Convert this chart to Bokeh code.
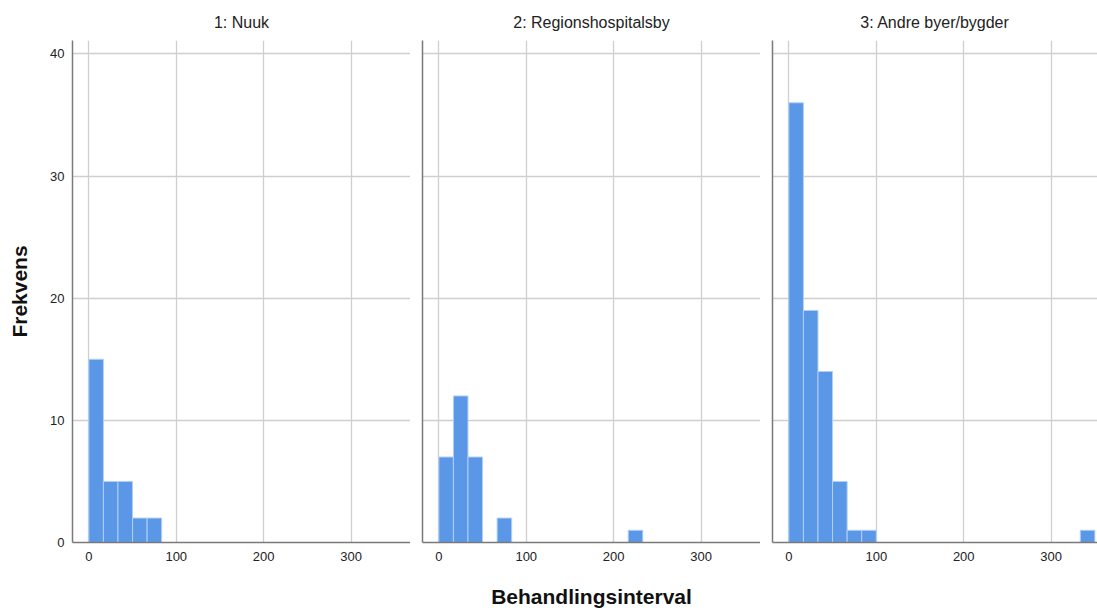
from bokeh.plotting import figure
from bokeh.layouts import row
from bokeh.models import FixedTicker, Range1d
from bokeh.embed import file_html
from bokeh.resources import INLINE

# ---- data (histogram counts per bin of width 100/6, starting at 0) ----
bin_width = 100 / 6
panel_titles = ["1: Nuuk", "2: Regionshospitalsby", "3: Andre byer/bygder"]
counts_nuuk = [15, 5, 5, 2, 2]
counts_region = [7, 12, 7, 0, 2, 0, 0, 0, 0, 0, 0, 0, 0, 1]
counts_andre = [36, 19, 14, 5, 1, 1, 0, 0, 0, 0, 0, 0, 0, 0, 0, 0, 0, 0, 0, 0, 1]
x_ticks = [0, 100, 200, 300]
y_ticks = [0, 10, 20, 30, 40]
x_label = "Behandlingsinterval"
y_label = "Frekvens"

FONT = "Liberation Sans"
FILL = "#5a97e6"
EDGE = "#b3cff3"
GRID = "#cfcfcf"
AXIS = "#7a7a7a"
TXT = "#222222"

all_counts = [counts_nuuk, counts_region, counts_andre]
x_ends = [368, 368, 353]
frame_ws = [338, 338, 325]
borders_left = [72, 12, 12]

figs = []
for i, (title, counts) in enumerate(zip(panel_titles, all_counts)):
    p = figure(
        frame_width=frame_ws[i], frame_height=502,
        x_range=Range1d(-18.7, x_ends[i]), y_range=Range1d(0, 41.1),
        output_backend="svg", toolbar_location=None,
        min_border_left=borders_left[i], min_border_right=0,
        min_border_top=40, min_border_bottom=66,
        title=title,
    )
    p.outline_line_color = None
    p.background_fill_color = "white"
    p.border_fill_color = "white"
    p.title.align = "center"
    p.title.text_font = FONT
    p.title.text_font_size = "16px"
    p.title.text_font_style = "normal"
    p.title.text_color = TXT
    p.title.standoff = 19

    lefts = [k * bin_width for k, c in enumerate(counts) if c > 0]
    rights = [(k + 1) * bin_width for k, c in enumerate(counts) if c > 0]
    tops = [c for c in counts if c > 0]
    p.quad(left=lefts, right=rights, top=tops, bottom=0,
           fill_color=FILL, line_color=EDGE, line_width=1)

    # x axis
    p.xaxis.ticker = FixedTicker(ticks=x_ticks)
    p.xaxis.major_tick_out = 0
    p.xaxis.major_tick_in = 0
    p.xaxis.minor_tick_out = 0
    p.xaxis.minor_tick_in = 0
    p.xaxis.axis_line_color = AXIS
    p.xaxis.axis_line_width = 1.5
    p.xaxis.major_label_text_font = FONT
    p.xaxis.major_label_text_font_size = "13px"
    p.xaxis.major_label_text_color = TXT
    p.xaxis.major_label_standoff = 9
    if i == 1:
        p.xaxis.axis_label = x_label
        p.xaxis.axis_label_text_font = FONT
        p.xaxis.axis_label_text_font_size = "21px"
        p.xaxis.axis_label_text_font_style = "bold"
        p.xaxis.axis_label_text_color = "#111111"
        p.xaxis.axis_label_standoff = 21

    # y axis
    p.yaxis.axis_line_color = AXIS
    p.yaxis.axis_line_width = 1.5
    p.yaxis.major_tick_out = 0
    p.yaxis.major_tick_in = 0
    p.yaxis.minor_tick_out = 0
    p.yaxis.minor_tick_in = 0
    if i == 0:
        p.yaxis.ticker = FixedTicker(ticks=y_ticks)
        p.yaxis.major_label_text_font = FONT
        p.yaxis.major_label_text_font_size = "13px"
        p.yaxis.major_label_text_color = TXT
        p.yaxis.major_label_standoff = 8
        p.yaxis.axis_label = y_label
        p.yaxis.axis_label_text_font = FONT
        p.yaxis.axis_label_text_font_size = "21px"
        p.yaxis.axis_label_text_font_style = "bold"
        p.yaxis.axis_label_text_color = "#111111"
        p.yaxis.axis_label_standoff = 16
    else:
        p.yaxis.ticker = FixedTicker(ticks=[])
        p.yaxis.major_label_standoff = 0

    p.xgrid.ticker = FixedTicker(ticks=x_ticks)
    p.ygrid.ticker = FixedTicker(ticks=y_ticks)
    p.xgrid.grid_line_color = GRID
    p.ygrid.grid_line_color = GRID
    p.xgrid.grid_line_width = 1.3
    p.ygrid.grid_line_width = 1.3
    figs.append(p)

layout = row(*figs, spacing=0)
open("out.html", "w").write(file_html(layout, INLINE))
